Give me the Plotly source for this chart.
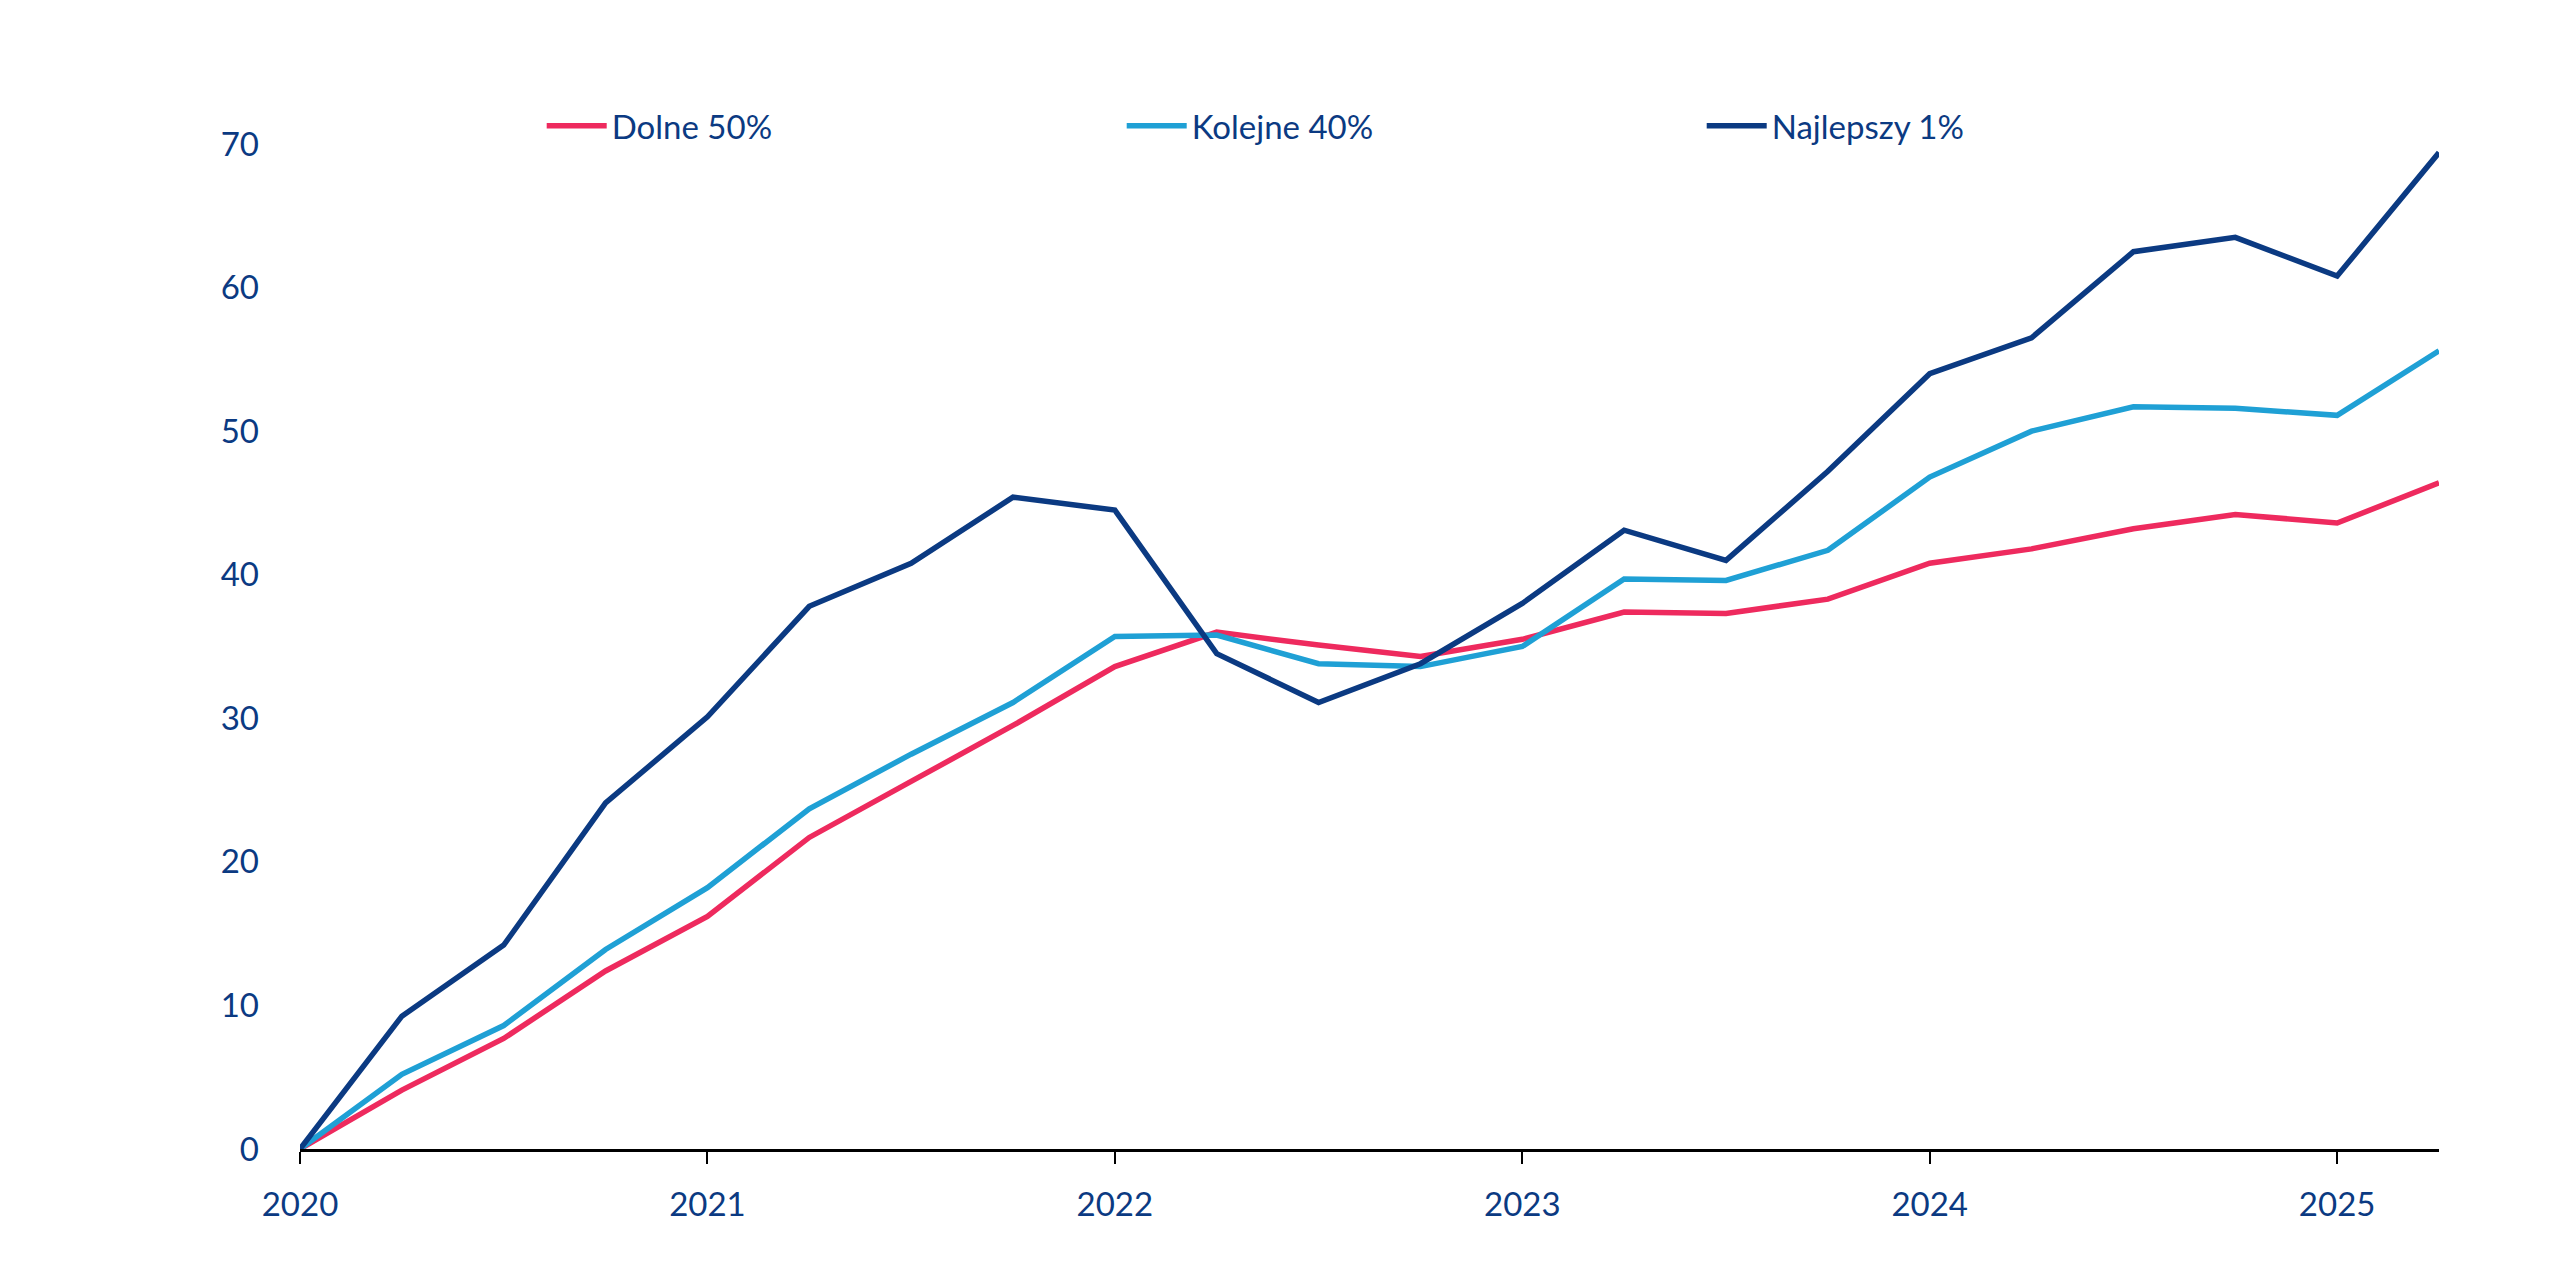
import plotly.graph_objects as go

quarters = [2020.0, 2020.25, 2020.5, 2020.75, 2021.0, 2021.25, 2021.5, 2021.75,
            2022.0, 2022.25, 2022.5, 2022.75, 2023.0, 2023.25, 2023.5, 2023.75,
            2024.0, 2024.25, 2024.5, 2024.75, 2025.0, 2025.25]

dolne_50 = [0, 4.1, 7.7, 12.4, 16.2, 21.7, 25.6, 29.5, 33.6, 36.0, 35.1, 34.3,
            35.5, 37.4, 37.3, 38.3, 40.8, 41.8, 43.2, 44.2, 43.6, 46.4]
kolejne_40 = [0, 5.2, 8.6, 13.9, 18.2, 23.7, 27.5, 31.1, 35.7, 35.8, 33.8, 33.6,
              35.0, 39.7, 39.6, 41.7, 46.8, 50.0, 51.7, 51.6, 51.1, 55.6]
najlepszy_1 = [0, 9.25, 14.2, 24.1, 30.1, 37.8, 40.8, 45.4, 44.5, 34.5, 31.1, 33.8,
               38.0, 43.1, 41.0, 47.2, 54.0, 56.5, 62.5, 63.5, 60.8, 69.4]

series_names = ["Dolne 50%", "Kolejne 40%", "Najlepszy 1%"]
series_colors = ["#EE2A5E", "#1FA0D5", "#0B3A82"]
x_ticks = [2020, 2021, 2022, 2023, 2024, 2025]
y_ticks = [0, 10, 20, 30, 40, 50, 60, 70]

TEXT = "#0B3A82"
FONT = "Lato, 'Open Sans', sans-serif"

fig = go.Figure()
for name, vals, col in zip(series_names, [dolne_50, kolejne_40, najlepszy_1], series_colors):
    fig.add_trace(go.Scatter(x=quarters, y=vals, mode="lines", name=name,
                             line=dict(color=col, width=5.5)))

fig.update_layout(
    width=2560, height=1264,
    paper_bgcolor="white", plot_bgcolor="white",
    margin=dict(l=300, r=121, t=144, b=115),
    font=dict(family=FONT, size=33, color=TEXT),
    showlegend=True,
    legend=dict(orientation="h", x=0.113, xanchor="left", y=1.018, yanchor="middle",
                entrywidth=505, entrywidthmode="pixels", itemwidth=60,
                font=dict(size=33, color=TEXT), bgcolor="rgba(0,0,0,0)"),
    xaxis=dict(range=[2020, 2025.25], tickvals=x_ticks, ticktext=[str(t) for t in x_ticks],
               showgrid=False, zeroline=False, showline=True, linecolor="black", linewidth=3,
               ticks="outside", ticklen=12, tickwidth=2, tickcolor="black",
               tickfont=dict(size=33, color=TEXT), ticklabelstandoff=12),
    yaxis=dict(range=[0, 70], tickvals=y_ticks, showgrid=False, zeroline=False,
               showline=False, ticks="", tickfont=dict(size=33, color=TEXT),
               ticklabelstandoff=40),
)

fig.write_html("out.html")
